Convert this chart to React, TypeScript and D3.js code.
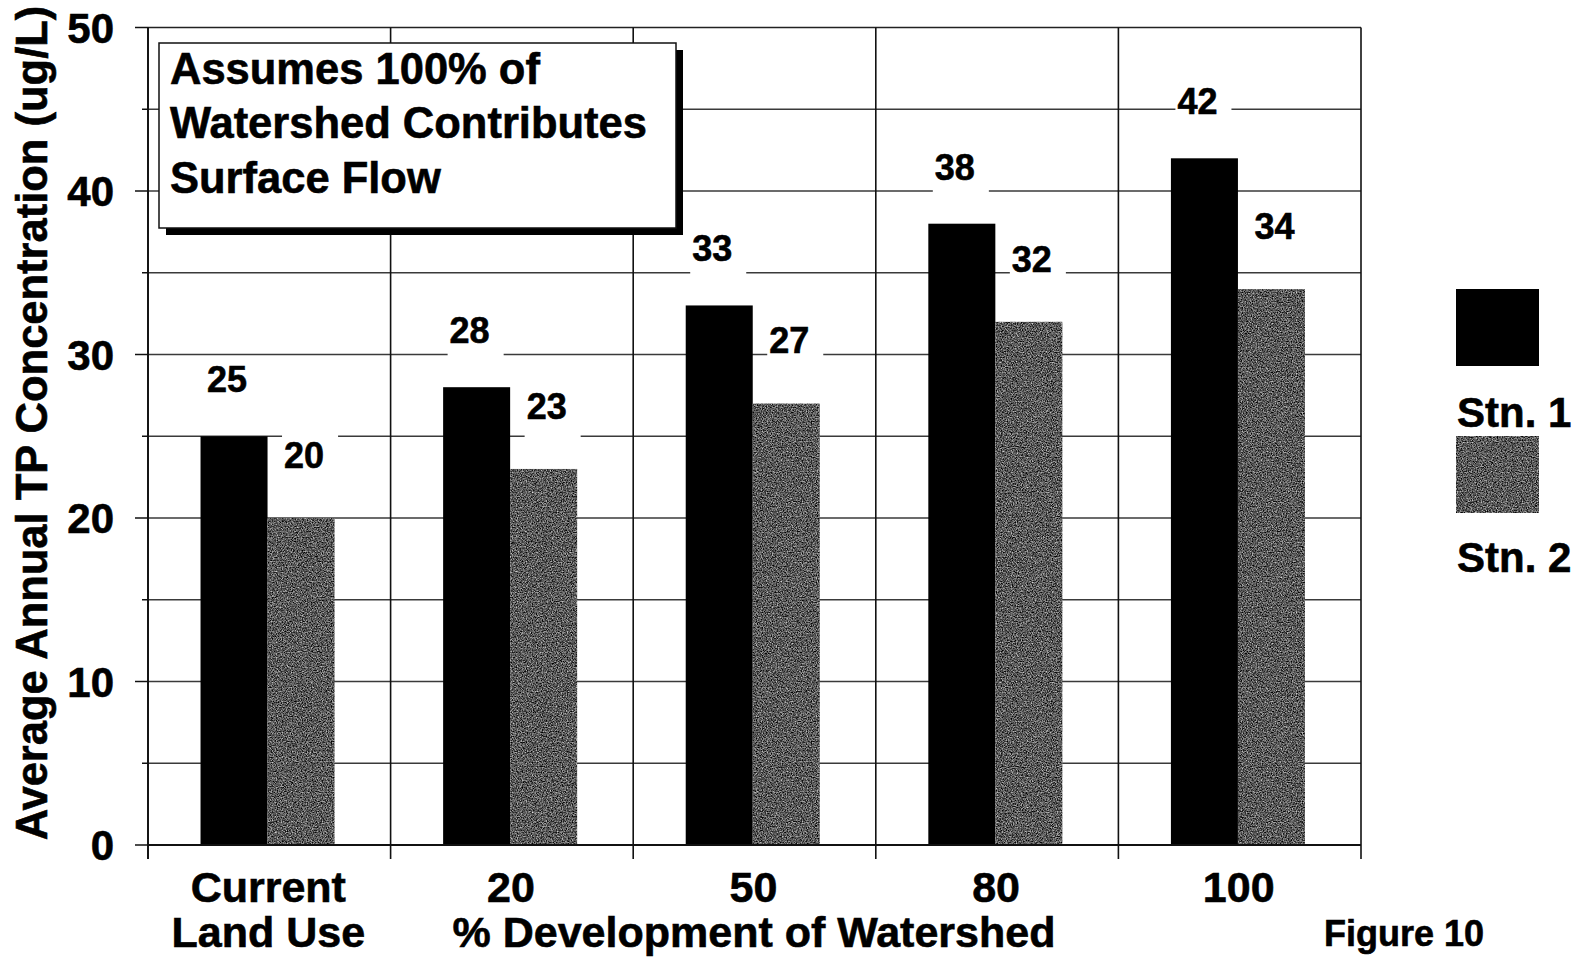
import React from "react";
import * as d3 from "d3";

const categoryLines: string[][] = [["Current", "Land Use"], ["20"], ["50"], ["80"], ["100"]];
const categories: string[] = categoryLines.map((l) => l.join(" "));
const series: string[] = ["Stn. 1", "Stn. 2"];
const stn1: number[] = [25, 28, 33, 38, 42];
const stn2: number[] = [20, 23, 27, 32, 34];
const yTicks: number[] = [0, 10, 20, 30, 40, 50];
const gridValues: number[] = [5, 10, 15, 20, 25, 30, 35, 40, 45];
const noteLines: string[] = ["Assumes 100% of", "Watershed Contributes", "Surface Flow"];
const yTitle = "Average Annual TP Concentration (ug/L)";
const xTitle = "% Development of Watershed";
const figureLabel = "Figure 10";

const FONT = "'Liberation Sans', Arial, Helvetica, sans-serif";

export default function App() {
  const W = 1578;
  const H = 958;
  const left = 148;
  const right = 1361;
  const x0 = d3.scaleBand<string>().domain(categories).range([left, right]);
  const bw = x0.bandwidth();
  const x1 = d3.scaleBand<string>().domain(series).range([bw * 0.2165, bw * 0.769]);
  const y = d3.scaleLinear().domain([0, 50]).range([845, 27.5]);
  const valuesBySeries = [stn1, stn2];
  const fills = ["#000", "url(#stn2fill)"];
  const labelDx = [-7, 3];
  const labelDy = [-57, -63];
  const vFont = 36;

  const boundaries = categories.map((c) => x0(c) as number).concat([right]);

  const labels: { cx: number; cy: number; text: string }[] = [];
  series.forEach((s, si) => {
    valuesBySeries[si].forEach((v, ci) => {
      const bx = (x0(categories[ci]) as number) + (x1(s) as number);
      labels.push({
        cx: bx + x1.bandwidth() / 2 + labelDx[si],
        cy: y(v) + labelDy[si],
        text: String(v),
      });
    });
  });

  const txt = { fill: "#000", stroke: "#000", strokeWidth: 0.6 };

  return (
    <svg
      width={W}
      height={H}
      style={{ position: "fixed", left: 0, top: 0, background: "#fff" }}
      fontFamily={FONT}
      fontWeight="bold"
    >
      <defs>
        <filter id="grain" x="0" y="0" width="1" height="1" colorInterpolationFilters="sRGB">
          <feTurbulence type="fractalNoise" baseFrequency="0.8" numOctaves="2" seed="7" result="noise" />
          <feColorMatrix
            in="noise"
            type="matrix"
            values="1 0 0 0 0  1 0 0 0 0  1 0 0 0 0  0 0 0 0 1"
            result="gray"
          />
          <feComponentTransfer in="gray" result="contrast">
            <feFuncR type="linear" slope="1.3" intercept="-0.3" />
            <feFuncG type="linear" slope="1.3" intercept="-0.3" />
            <feFuncB type="linear" slope="1.3" intercept="-0.3" />
          </feComponentTransfer>
          <feComposite in="contrast" in2="SourceGraphic" operator="in" />
        </filter>
        <pattern id="stn2fill" patternUnits="userSpaceOnUse" width="400" height="900">
          <rect width="400" height="900" fill="#5e5e5e" filter="url(#grain)" />
        </pattern>
      </defs>
      <rect x={0} y={0} width={W} height={H} fill="#fff" />

      {/* horizontal gridlines */}
      {gridValues.map((g) => (
        <line key={"g" + g} x1={left} x2={right} y1={y(g)} y2={y(g)} stroke="#3a3a3a" strokeWidth={1.5} />
      ))}
      {/* top frame */}
      <line x1={left} x2={right} y1={y(50)} y2={y(50)} stroke="#222" strokeWidth={1.6} />
      {/* vertical category lines */}
      {boundaries.map((b, i) => (
        <line key={"v" + i} x1={b} x2={b} y1={y(50)} y2={y(0) + 14} stroke="#111" strokeWidth={1.6} />
      ))}
      {/* y ticks */}
      {gridValues.concat([0, 50]).map((g) => (
        <line
          key={"t" + g}
          x1={g % 10 === 0 ? left - 13 : left - 6}
          x2={left}
          y1={y(g)}
          y2={y(g)}
          stroke="#111"
          strokeWidth={1.5}
        />
      ))}

      {/* annotation box */}
      <rect x={166} y={50} width={517} height={185} fill="#000" />
      <rect x={159} y={43} width={517} height={185} fill="#fff" stroke="#111" strokeWidth={1.5} />
      {noteLines.map((t, i) => (
        <text key={"n" + i} x={170} y={83.5 + i * 54.5} fontSize={43.5} {...txt}>
          {t}
        </text>
      ))}

      {/* label backgrounds */}
      {labels.map((l, i) => {
        const tw = l.text.length * 0.556 * vFont;
        return (
          <rect key={"lb" + i} x={l.cx - tw / 2 - 2} y={l.cy - 22} width={tw + 16} height={56} fill="#fff" />
        );
      })}

      {/* bars */}
      {series.map((s, si) =>
        valuesBySeries[si].map((v, ci) => (
          <rect
            key={s + ci}
            x={(x0(categories[ci]) as number) + (x1(s) as number)}
            y={y(v)}
            width={x1.bandwidth()}
            height={y(0) - y(v)}
            fill={fills[si]}
          />
        ))
      )}

      {/* axes */}
      <line x1={left} x2={right} y1={y(0)} y2={y(0)} stroke="#111" strokeWidth={1.8} />
      <line x1={left} x2={left} y1={y(50)} y2={y(0) + 14} stroke="#111" strokeWidth={1.8} />

      {/* value labels */}
      {labels.map((l, i) => (
        <text key={"l" + i} x={l.cx} y={l.cy + 0.358 * vFont} textAnchor="middle" fontSize={vFont} {...txt}>
          {l.text}
        </text>
      ))}

      {/* y tick labels */}
      {yTicks.map((t) => (
        <text key={"yl" + t} x={114} y={y(t) + 15} textAnchor="end" fontSize={42} {...txt}>
          {t}
        </text>
      ))}

      {/* y title */}
      <text transform="translate(47,423) rotate(-90)" textAnchor="middle" fontSize={43.5} {...txt}>
        {yTitle}
      </text>

      {/* x category labels */}
      {categoryLines.map((lines, ci) =>
        lines.map((ln, li) => (
          <text
            key={"c" + ci + li}
            x={(x0(categories[ci]) as number) + bw / 2 - 1}
            y={902 + li * 45}
            textAnchor="middle"
            fontSize={43}
            {...txt}
          >
            {ln}
          </text>
        ))
      )}
      <text x={754} y={947} textAnchor="middle" fontSize={43} {...txt}>
        {xTitle}
      </text>

      {/* legend */}
      {series.map((s, si) => (
        <g key={"lg" + s}>
          <rect x={1456} y={289 + si * 147} width={83} height={77} fill={fills[si]} />
          <text x={1457} y={427 + si * 145} fontSize={42} {...txt}>
            {s}
          </text>
        </g>
      ))}

      <text x={1324} y={946} fontSize={36} {...txt}>
        {figureLabel}
      </text>
    </svg>
  );
}
